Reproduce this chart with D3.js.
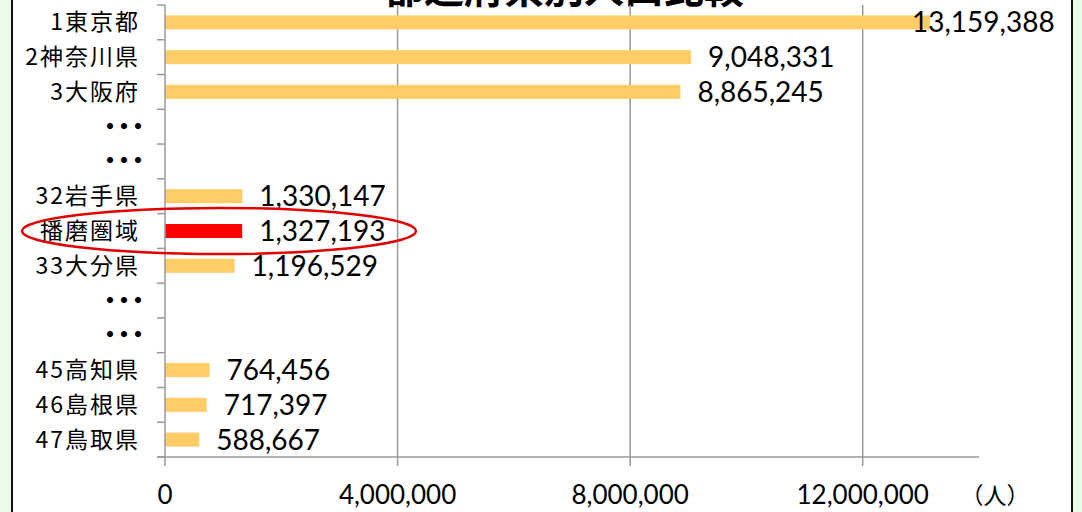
<!DOCTYPE html>
<html>
<head>
<meta charset="utf-8">
<script src="https://cdn.jsdelivr.net/npm/d3@7"></script>
<style>
html,body{margin:0;padding:0;background:#e8fce8;}
svg{display:block;}
</style>
</head>
<body>
<svg id="chart" width="1082" height="512"></svg>
<script>
const categories = ["1東京都","2神奈川県","3大阪府","・・・ ","・・・  ","32岩手県","播磨圏域","33大分県","・・・   ","・・・    ","45高知県","46島根県","47鳥取県"];
const values = [13159388, 9048331, 8865245, null, null, 1330147, 1327193, 1196529, null, null, 764456, 717397, 588667];
const highlight = [false,false,false,false,false,false,true,false,false,false,false,false,false];
const xTicks = [0, 4000000, 8000000, 12000000];
const titleText = "都道府県別人口比較";
const unitText = "（人）";

const svg = d3.select("#chart");
const W = 1082, H = 512;

// panel background and borders
svg.append("rect").attr("x",0).attr("y",0).attr("width",W).attr("height",H).attr("fill","#e8fce8");
svg.append("rect").attr("x",12).attr("y",0).attr("width",1060).attr("height",H).attr("fill","#ffffff");
svg.append("line").attr("x1",12).attr("x2",12).attr("y1",0).attr("y2",H).attr("stroke","#111").attr("stroke-width",2);
svg.append("line").attr("x1",1072).attr("x2",1072).attr("y1",0).attr("y2",H).attr("stroke","#111").attr("stroke-width",2);

const x = d3.scaleLinear().domain([0, 14000000]).range([165, 979]);
const yTop = 5, yBot = 457;
const y = d3.scaleBand().domain(categories).range([yTop, yBot]);
const step = y.step();
const barH = 14;
const yc = c => y(c) + step/2;

// title (cut off at top, as in the original)
svg.append("text").attr("x",564).attr("y",3).attr("text-anchor","middle")
  .attr("font-family","'Noto Sans CJK JP'").attr("font-weight","bold").attr("font-size",40)
  .attr("fill","#000").text(titleText);

// gridlines
svg.append("g").selectAll("line").data(xTicks.slice(1)).join("line")
  .attr("x1",d=>x(d)).attr("x2",d=>x(d)).attr("y1",yTop).attr("y2",yBot+9)
  .attr("stroke","#999").attr("stroke-width",1.5);

// bars
const rows = categories.map((c,i)=>({c, v: values[i], hl: highlight[i], i}));
svg.append("g").selectAll("rect").data(rows.filter(d=>d.v!=null)).join("rect")
  .attr("x",x(0)).attr("y",d=>yc(d.c) - barH/2)
  .attr("width",d=>x(d.v)-x(0)).attr("height",barH)
  .attr("fill",d=>d.hl ? "#ff0000" : "#ffcc66");

// value labels
const fmt = d3.format(",");
svg.append("g").selectAll("text").data(rows.filter(d=>d.v!=null)).join("text")
  .attr("x",d=>Math.min(x(d.v)+17, 912))
  .attr("y",d=>yc(d.c) + 10)
  .attr("font-family","Lato, 'Open Sans', sans-serif").attr("font-size",28)
  .attr("fill","#000").text(d=>fmt(d.v));

// y axis
svg.append("line").attr("x1",165).attr("x2",165).attr("y1",yTop).attr("y2",yBot+9)
  .attr("stroke","#999").attr("stroke-width",1.5);
const yTickPos = d3.range(categories.length+1).map(i=>yTop + step*i);
svg.append("g").selectAll("line").data(yTickPos).join("line")
  .attr("x1",157).attr("x2",165).attr("y1",d=>d).attr("y2",d=>d)
  .attr("stroke","#999").attr("stroke-width",1.5);
// x axis line
svg.append("line").attr("x1",157).attr("x2",979).attr("y1",yBot).attr("y2",yBot)
  .attr("stroke","#999").attr("stroke-width",1.5);

// category labels
const labels = svg.append("g");
labels.selectAll("text.cat").data(rows.filter(d=>d.v!=null)).join("text")
  .attr("class","cat")
  .attr("x",140).attr("y",d=>yc(d.c) + 8)
  .attr("text-anchor","end")
  .attr("font-family","'Noto Sans CJK JP'").attr("font-size",23)
  .attr("letter-spacing",2)
  .attr("fill","#000")
  .text(d=>d.c);
labels.selectAll("text.dots").data(rows.filter(d=>d.v==null)).join("text")
  .attr("class","dots")
  .attr("x",98).attr("y",d=>yc(d.c) + 8)
  .attr("text-anchor","start")
  .attr("font-family","'Noto Sans CJK JP'").attr("font-size",24)
  .attr("font-weight","bold")
  .attr("letter-spacing",-10)
  .attr("fill","#000")
  .text("・・・");

// x tick labels
svg.append("g").selectAll("text").data(xTicks).join("text")
  .attr("x",d=>x(d)).attr("y",504).attr("text-anchor","middle")
  .attr("font-family","Lato, 'Open Sans', sans-serif").attr("font-size",26)
  .attr("fill","#000").text(d=>fmt(d));
svg.append("text").attr("x",995).attr("y",504).attr("text-anchor","middle")
  .attr("font-family","'Noto Sans CJK JP'").attr("font-size",23)
  .attr("fill","#000").text(unitText);

// highlight ellipse
const hi = rows.find(d=>d.hl);
svg.append("ellipse").attr("cx",219).attr("cy",yc(hi.c))
  .attr("rx",197).attr("ry",23).attr("fill","none").attr("stroke","#e00000").attr("stroke-width",2.5);
</script>
</body>
</html>
